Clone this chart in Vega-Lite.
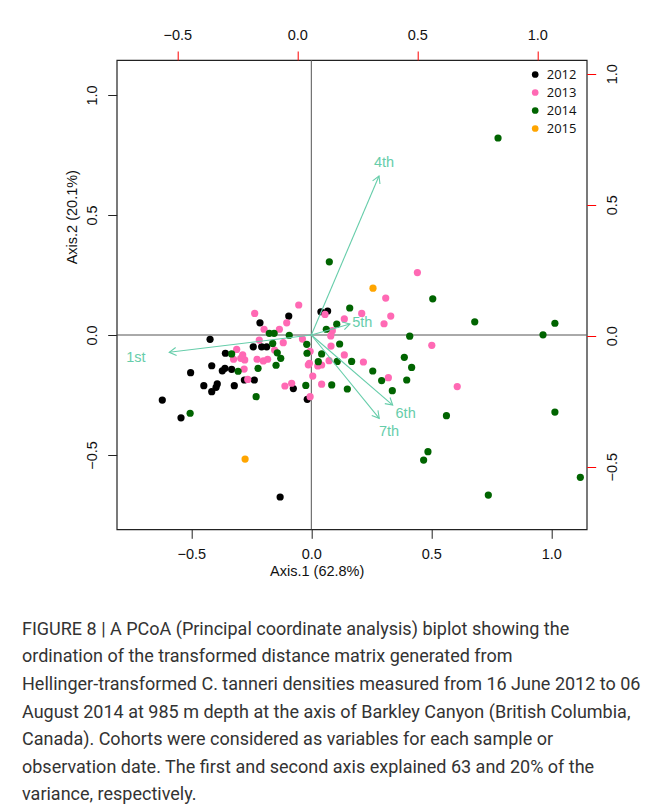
{
  "$schema": "https://vega.github.io/schema/vega-lite/v6.json",
  "width": 470,
  "height": 469.3,
  "autosize": {"type": "none"},
  "padding": {"left": 116.7, "top": 60, "right": 73.3, "bottom": 276.7},
  "background": "white",
  "config": {
    "view": {"stroke": "#222", "strokeWidth": 1.2},
    "font": "Liberation Sans",
    "axis": {
      "grid": false, "domain": false,
      "labelFont": "Liberation Sans", "labelFontSize": 14.5, "labelColor": "#111",
      "titleFont": "Liberation Sans", "titleFontSize": 14.5, "titleFontWeight": "normal", "titleColor": "#111",
      "tickColor": "#222", "tickSize": 9, "labelPadding": 9
    }
  },
  "title": {
    "text": [
      "FIGURE 8 | A PCoA (Principal coordinate analysis) biplot showing the",
      "ordination of the transformed distance matrix generated from",
      "Hellinger-transformed C. tanneri densities measured from 16 June 2012 to 06",
      "August 2014 at 985 m depth at the axis of Barkley Canyon (British Columbia,",
      "Canada). Cohorts were considered as variables for each sample or",
      "observation date. The first and second axis explained 63 and 20% of the",
      "variance, respectively."
    ],
    "orient": "bottom", "anchor": "start", "frame": "group",
    "dx": -94.7, "offset": 43,
    "font": "Roboto", "fontSize": 18, "fontWeight": "normal",
    "lineHeight": 27.6, "color": "#333", "baseline": "top"
  },
  "datasets": {
    "pts": [
      {"year": "2012", "x": -0.621, "y": -0.271},
      {"year": "2012", "x": -0.543, "y": -0.345},
      {"year": "2012", "x": -0.503, "y": -0.157},
      {"year": "2012", "x": -0.448, "y": -0.211},
      {"year": "2012", "x": -0.422, "y": -0.018},
      {"year": "2012", "x": -0.415, "y": -0.128},
      {"year": "2012", "x": -0.415, "y": -0.236},
      {"year": "2012", "x": -0.392, "y": -0.204},
      {"year": "2012", "x": -0.397, "y": -0.218},
      {"year": "2012", "x": -0.371, "y": -0.149},
      {"year": "2012", "x": -0.360, "y": -0.139},
      {"year": "2012", "x": -0.358, "y": -0.076},
      {"year": "2012", "x": -0.332, "y": -0.143},
      {"year": "2012", "x": -0.321, "y": -0.211},
      {"year": "2012", "x": -0.279, "y": -0.1875},
      {"year": "2012", "x": -0.2375, "y": -0.1875},
      {"year": "2012", "x": -0.242, "y": -0.049},
      {"year": "2012", "x": -0.207, "y": -0.049},
      {"year": "2012", "x": -0.186, "y": -0.049},
      {"year": "2012", "x": -0.214, "y": 0.051},
      {"year": "2012", "x": -0.094, "y": 0.079},
      {"year": "2012", "x": -0.075, "y": -0.223},
      {"year": "2012", "x": -0.017, "y": -0.268},
      {"year": "2012", "x": 0.040, "y": 0.097},
      {"year": "2012", "x": 0.068, "y": 0.100},
      {"year": "2012", "x": -0.130, "y": -0.675},
      {"year": "2013", "x": -0.311, "y": -0.060},
      {"year": "2013", "x": -0.324, "y": -0.101},
      {"year": "2013", "x": -0.294, "y": -0.097},
      {"year": "2013", "x": -0.2775, "y": -0.104},
      {"year": "2013", "x": -0.286, "y": -0.083},
      {"year": "2013", "x": -0.280, "y": -0.142},
      {"year": "2013", "x": -0.265, "y": -0.185},
      {"year": "2013", "x": -0.236, "y": 0.090},
      {"year": "2013", "x": -0.217, "y": -0.021},
      {"year": "2013", "x": -0.197, "y": 0.024},
      {"year": "2013", "x": -0.226, "y": -0.101},
      {"year": "2013", "x": -0.200, "y": -0.108},
      {"year": "2013", "x": -0.182, "y": -0.101},
      {"year": "2013", "x": -0.117, "y": -0.032},
      {"year": "2013", "x": -0.1025, "y": 0.051},
      {"year": "2013", "x": -0.0525, "y": 0.125},
      {"year": "2013", "x": -0.110, "y": -0.2125},
      {"year": "2013", "x": -0.082, "y": -0.201},
      {"year": "2013", "x": -0.005, "y": -0.257},
      {"year": "2013", "x": -0.037, "y": -0.017},
      {"year": "2013", "x": -0.008, "y": -0.118},
      {"year": "2013", "x": 0.442, "y": 0.260},
      {"year": "2013", "x": 0.310, "y": 0.154},
      {"year": "2013", "x": 0.057, "y": 0.086},
      {"year": "2013", "x": 0.210, "y": 0.090},
      {"year": "2013", "x": 0.1375, "y": 0.067},
      {"year": "2013", "x": 0.331, "y": 0.079},
      {"year": "2013", "x": 0.303, "y": 0.047},
      {"year": "2013", "x": 0.0875, "y": 0.018},
      {"year": "2013", "x": 0.081, "y": -0.004},
      {"year": "2013", "x": 0.502, "y": -0.043},
      {"year": "2013", "x": 0.082, "y": -0.046},
      {"year": "2013", "x": -0.005, "y": -0.068},
      {"year": "2013", "x": 0.1375, "y": -0.083},
      {"year": "2013", "x": -0.0125, "y": -0.124},
      {"year": "2013", "x": 0.027, "y": -0.129},
      {"year": "2013", "x": 0.043, "y": -0.125},
      {"year": "2013", "x": 0.074, "y": -0.107},
      {"year": "2013", "x": 0.217, "y": -0.1125},
      {"year": "2013", "x": 0.006, "y": -0.171},
      {"year": "2013", "x": 0.321, "y": -0.178},
      {"year": "2013", "x": 0.043, "y": -0.205},
      {"year": "2013", "x": 0.608, "y": -0.215},
      {"year": "2013", "x": -0.133, "y": 0.024},
      {"year": "2013", "x": -0.153, "y": -0.0625},
      {"year": "2014", "x": -0.505, "y": -0.326},
      {"year": "2014", "x": -0.332, "y": -0.079},
      {"year": "2014", "x": -0.305, "y": -0.151},
      {"year": "2014", "x": -0.230, "y": -0.257},
      {"year": "2014", "x": -0.222, "y": -0.139},
      {"year": "2014", "x": -0.175, "y": 0.007},
      {"year": "2014", "x": -0.155, "y": 0.007},
      {"year": "2014", "x": -0.161, "y": -0.035},
      {"year": "2014", "x": -0.142, "y": -0.074},
      {"year": "2014", "x": -0.1275, "y": -0.097},
      {"year": "2014", "x": -0.147, "y": -0.126},
      {"year": "2014", "x": -0.092, "y": -0.001},
      {"year": "2014", "x": -0.023, "y": -0.210},
      {"year": "2014", "x": -0.019, "y": -0.039},
      {"year": "2014", "x": -0.018, "y": -0.076},
      {"year": "2014", "x": 0.029, "y": -0.111},
      {"year": "2014", "x": 0.075, "y": 0.305},
      {"year": "2014", "x": 0.160, "y": 0.1125},
      {"year": "2014", "x": 0.106, "y": 0.045},
      {"year": "2014", "x": 0.0625, "y": 0.024},
      {"year": "2014", "x": 0.410, "y": -0.005},
      {"year": "2014", "x": 0.118, "y": -0.0375},
      {"year": "2014", "x": 0.043, "y": -0.079},
      {"year": "2014", "x": 0.3875, "y": -0.093},
      {"year": "2014", "x": 0.108, "y": -0.110},
      {"year": "2014", "x": 0.168, "y": -0.110},
      {"year": "2014", "x": 0.418, "y": -0.135},
      {"year": "2014", "x": 0.256, "y": -0.150},
      {"year": "2014", "x": 0.293, "y": -0.190},
      {"year": "2014", "x": 0.3975, "y": -0.1875},
      {"year": "2014", "x": 0.085, "y": -0.208},
      {"year": "2014", "x": 0.150, "y": -0.225},
      {"year": "2014", "x": 0.3375, "y": -0.232},
      {"year": "2014", "x": 0.563, "y": -0.336},
      {"year": "2014", "x": 0.506, "y": 0.151},
      {"year": "2014", "x": 0.681, "y": 0.055},
      {"year": "2014", "x": 1.015, "y": 0.049},
      {"year": "2014", "x": 0.9655, "y": 0.001},
      {"year": "2014", "x": 1.015, "y": -0.321},
      {"year": "2014", "x": 0.486, "y": -0.486},
      {"year": "2014", "x": 0.468, "y": -0.521},
      {"year": "2014", "x": 1.121, "y": -0.593},
      {"year": "2014", "x": 0.7375, "y": -0.667},
      {"year": "2014", "x": 0.778, "y": 0.821},
      {"year": "2015", "x": 0.257, "y": 0.195},
      {"year": "2015", "x": -0.276, "y": -0.517}
    ],
    "arrows": [
      {"cohort": "1st", "x": -0.592, "y": -0.072, "lx": -0.731, "ly": -0.094},
      {"cohort": "4th", "x": 0.282, "y": 0.6625, "lx": 0.303, "ly": 0.717},
      {"cohort": "5th", "x": 0.161, "y": 0.046, "lx": 0.2125, "ly": 0.052},
      {"cohort": "6th", "x": 0.339, "y": -0.292, "lx": 0.393, "ly": -0.329},
      {"cohort": "7th", "x": 0.283, "y": -0.347, "lx": 0.324, "ly": -0.404}
    ]
  },
  "layer": [
    {
      "layer": [
        {
          "data": {"values": [{}]},
          "mark": {"type": "rule", "color": "#555", "strokeWidth": 1},
          "encoding": {
            "x": {"datum": 0, "type": "quantitative", "scale": {"domain": [-0.811, 1.1475], "nice": false, "zero": false}}
          }
        },
        {
          "data": {"values": [{}]},
          "mark": {"type": "rule", "color": "#555", "strokeWidth": 1},
          "encoding": {
            "y": {"datum": 0, "type": "quantitative", "scale": {"domain": [-0.8096, 1.146], "nice": false, "zero": false}}
          }
        },
        {
          "data": {"name": "pts"},
          "mark": {"type": "circle", "size": 52, "opacity": 1},
          "encoding": {
            "x": {"field": "x", "type": "quantitative",
              "scale": {"domain": [-0.811, 1.1475], "nice": false, "zero": false},
              "axis": {"values": [-0.5, 0, 0.5, 1], "format": ".1f", "title": "Axis.1 (62.8%)",
                "titleX": 200, "titleY": 42, "titleAlign": "center", "titleBaseline": "middle", "labelPadding": 9}},
            "y": {"field": "y", "type": "quantitative",
              "scale": {"domain": [-0.8096, 1.146], "nice": false, "zero": false},
              "axis": {"values": [-0.5, 0, 0.5, 1], "format": ".1f", "labelAngle": -90, "title": "Axis.2 (20.1%)",
                "titleX": -44.7, "titleY": 156.7, "titleAlign": "center", "titleBaseline": "middle", "labelPadding": 8}},
            "color": {"field": "year", "type": "nominal",
              "scale": {"domain": ["2012", "2013", "2014", "2015"], "range": ["#000000", "#FF69B4", "#006400", "#FFA500"]},
              "legend": {"orient": "none", "legendX": 412, "legendY": 8, "title": null,
                "labelFont": "Open Sans", "labelFontSize": 13, "labelColor": "#111", "symbolSize": 45, "symbolType": "circle",
                "symbolStrokeWidth": 0, "rowPadding": 4, "labelOffset": 5, "padding": 0}},
            "order": {"field": "year", "type": "ordinal"}
          }
        },
        {
          "data": {"name": "arrows"},
          "mark": {"type": "rule", "color": "#66CDAA", "strokeWidth": 1.1},
          "encoding": {
            "x": {"field": "x", "type": "quantitative", "scale": {"domain": [-0.811, 1.1475], "nice": false, "zero": false}},
            "y": {"field": "y", "type": "quantitative", "scale": {"domain": [-0.8096, 1.146], "nice": false, "zero": false}},
            "x2": {"datum": 0},
            "y2": {"datum": 0}
          }
        },
        {
          "data": {"name": "arrows"},
          "transform": [{"calculate": "atan2(datum.x, datum.y) * 180 / PI", "as": "ang"}],
          "mark": {"type": "point", "shape": "M -0.5 0.866 L 0 0 L 0.5 0.866", "filled": false, "stroke": "#66CDAA", "strokeWidth": 1.1, "size": 256, "opacity": 1},
          "encoding": {
            "x": {"field": "x", "type": "quantitative", "scale": {"domain": [-0.811, 1.1475], "nice": false, "zero": false}},
            "y": {"field": "y", "type": "quantitative", "scale": {"domain": [-0.8096, 1.146], "nice": false, "zero": false}},
            "angle": {"field": "ang", "type": "quantitative", "scale": null}
          }
        },
        {
          "data": {"name": "arrows"},
          "mark": {"type": "text", "color": "#66CDAA", "font": "Liberation Sans", "fontSize": 14.5, "align": "center", "baseline": "middle"},
          "encoding": {
            "x": {"field": "lx", "type": "quantitative", "scale": {"domain": [-0.811, 1.1475], "nice": false, "zero": false}},
            "y": {"field": "ly", "type": "quantitative", "scale": {"domain": [-0.8096, 1.146], "nice": false, "zero": false}},
            "text": {"field": "cohort"}
          }
        }
      ]
    },
    {
      "data": {"values": []},
      "mark": {"type": "point", "opacity": 0},
      "encoding": {
        "x": {"field": "sx", "type": "quantitative",
          "scale": {"domain": [-0.7525, 1.206], "nice": false, "zero": false},
          "axis": {"orient": "top", "values": [-0.5, 0, 0.5, 1], "format": ".1f", "title": null, "tickColor": "#FF0000", "labelPadding": 9}},
        "y": {"field": "sy", "type": "quantitative",
          "scale": {"domain": [-0.739, 1.0523], "nice": false, "zero": false},
          "axis": {"orient": "right", "values": [-0.5, 0, 0.5, 1], "format": ".1f", "labelAngle": -90, "title": null, "tickColor": "#FF0000", "labelPadding": 10}}
      }
    }
  ],
  "resolve": {"scale": {"x": "independent", "y": "independent"}}
}
